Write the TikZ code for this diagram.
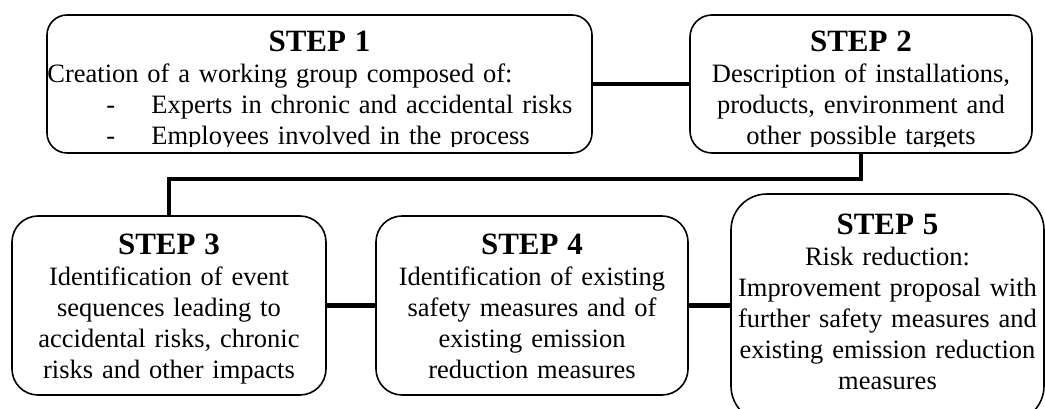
\documentclass[tikz,border=0pt]{standalone}
\usepackage{fontspec}
\setmainfont{Liberation Serif}
\usetikzlibrary{positioning}

\newcommand{\bodyfont}{\fontsize{26.5}{31}\selectfont}
\newcommand{\stepfont}{\fontsize{31}{31}\selectfont\bfseries}

\begin{document}
\begin{tikzpicture}[x=1pt,y=1pt,
  stepbox/.style={draw,line width=1.6pt,rounded corners=20pt,inner sep=0pt},
  stxt/.style={font=\bodyfont,align=center,inner sep=0pt,anchor=base},
  link/.style={line width=4.5pt}
]
\useasboundingbox (0,0) rectangle (1045,409);

% boxes
\node[stepbox,minimum width=545pt,minimum height=138pt] (s1) at (319.5,325) {};
\node[stepbox,minimum width=342pt,minimum height=138pt,rounded corners=22pt] (s2) at (861,325) {};
\node[stepbox,minimum width=314pt,minimum height=179pt,rounded corners=26pt] (s3) at (169,103.5) {};
\node[stepbox,minimum width=312pt,minimum height=179pt,rounded corners=26pt] (s4) at (532,103.5) {};
\node[stepbox,minimum width=313pt,minimum height=228pt,rounded corners=36pt] (s5) at (887.5,101) {};

% texts (the two top boxes cut their last line)
\begin{scope}
\clip ([yshift=7pt]s1.south west) rectangle (s1.north east);
\node[stxt,text width=300pt] (t1) at ([yshift=-37pt]s1.north) {{\stepfont STEP 1}};
\node[stxt,text width=540pt,align=left,anchor=base west] (b1)
  at ([xshift=1pt,yshift=-68pt]s1.north west)
  {Creation of a working group composed of:\\
   \hspace*{59pt}\makebox[45pt][l]{-}Experts in chronic and accidental risks\\
   \hspace*{59pt}\makebox[45pt][l]{-}Employees involved in the process};
\end{scope}
\begin{scope}
\clip ([yshift=7pt]s2.south west) rectangle (s2.north east);
\node[stxt,text width=340pt] (t2) at ([yshift=-37pt]s2.north)
  {{\stepfont STEP 2}\\Description of installations,\\products, environment and\\other possible targets};
\end{scope}
\node[stxt,text width=330pt] (t3) at ([yshift=-39pt]s3.north)
  {{\stepfont STEP 3}\\Identification of event\\sequences leading to\\accidental risks, chronic\\risks and other impacts};
\node[stxt,text width=330pt] (t4) at ([yshift=-39pt]s4.north)
  {{\stepfont STEP 4}\\Identification of existing\\safety measures and of\\existing emission\\reduction measures};
\node[stxt,text width=340pt] (t5) at ([yshift=-41pt]s5.north)
  {{\stepfont STEP 5}\\Risk reduction:\\Improvement proposal with\\further safety measures and\\existing emission reduction\\measures};

% links
\draw[link] (s1) -- (s2);
\draw[link] (s2.south) -- ++(0,-25) -| (s3.north);
\draw[link] (s3) -- (s4);
\draw[link] (s4.east) -- (s4.east -| s5.west);
\end{tikzpicture}
\end{document}
